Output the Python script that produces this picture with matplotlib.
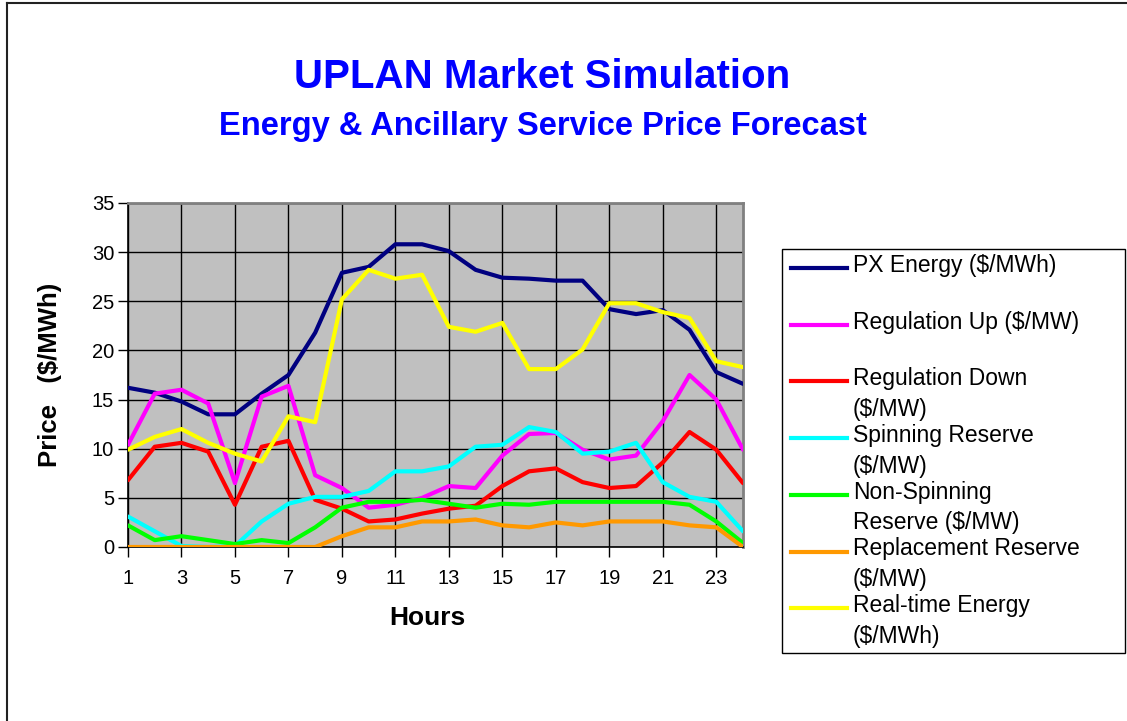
import matplotlib
matplotlib.use("Agg")
import matplotlib.pyplot as plt
from matplotlib.lines import Line2D
from matplotlib.patches import Rectangle

plt.rcParams['font.family'] = ['Liberation Sans', 'DejaVu Sans']

hours = list(range(1, 25))
px_energy = [16.2, 15.7, 14.8, 13.5, 13.5, 15.6, 17.5, 21.8, 27.9, 28.5, 30.8, 30.8,
             30.1, 28.2, 27.4, 27.3, 27.1, 27.1, 24.2, 23.7, 24.1, 22.1, 17.8, 16.6]
reg_up = [10.4, 15.6, 16.0, 14.6, 6.5, 15.3, 16.4, 7.3, 6.0, 4.0, 4.3, 5.0,
          6.2, 6.0, 9.3, 11.5, 11.6, 9.9, 8.9, 9.3, 12.8, 17.5, 15.0, 9.9]
reg_down = [6.8, 10.2, 10.6, 9.7, 4.3, 10.2, 10.8, 4.8, 3.9, 2.6, 2.8, 3.4,
            3.9, 4.2, 6.2, 7.7, 8.0, 6.6, 6.0, 6.2, 8.6, 11.7, 9.9, 6.5]
spinning = [3.1, 1.6, 0.1, 0.0, 0.1, 2.6, 4.4, 5.1, 5.1, 5.7, 7.7, 7.7,
            8.2, 10.2, 10.4, 12.2, 11.7, 9.5, 9.7, 10.6, 6.6, 5.1, 4.6, 1.6]
non_spinning = [2.2, 0.7, 1.1, 0.7, 0.3, 0.7, 0.4, 2.0, 4.0, 4.6, 4.6, 4.8,
                4.4, 4.0, 4.4, 4.3, 4.6, 4.6, 4.6, 4.6, 4.6, 4.3, 2.6, 0.4]
replacement = [0, 0, 0, 0, 0, 0, 0, 0, 1.1, 2.0, 2.0, 2.6,
               2.6, 2.8, 2.2, 2.0, 2.5, 2.2, 2.6, 2.6, 2.6, 2.2, 2.0, 0]
real_time = [9.9, 11.2, 12.0, 10.6, 9.5, 8.7, 13.3, 12.7, 25.2, 28.2, 27.3, 27.7,
             22.4, 21.9, 22.8, 18.1, 18.1, 20.1, 24.8, 24.8, 23.9, 23.3, 18.9, 18.3]

series = [px_energy, reg_up, reg_down, spinning, non_spinning, replacement, real_time]
labels = ["PX Energy ($/MWh)", "Regulation Up ($/MW)", "Regulation Down\n($/MW)",
          "Spinning Reserve\n($/MW)", "Non-Spinning\nReserve ($/MW)",
          "Replacement Reserve\n($/MW)", "Real-time Energy\n($/MWh)"]
colors = ["#000080", "#FF00FF", "#FF0000", "#00FFFF", "#00FF00", "#FF9900", "#FFFF00"]
x_ticks = list(range(1, 25, 2))
y_ticks = [0, 5, 10, 15, 20, 25, 30, 35]

W, H = 1127, 721
fig = plt.figure(figsize=(W / 100, H / 100), dpi=100)
fig.patch.set_facecolor("white")

def fx(px):
    return px / W

def fy(py):
    return 1 - py / H

ax = fig.add_axes([fx(128), fy(547), fx(743) - fx(128), fy(203) - fy(547)])
ax.set_facecolor("#C0C0C0")

for vals, c in zip(series, colors):
    ax.plot(hours, vals, color=c, lw=3.0, solid_capstyle='round', solid_joinstyle='round', zorder=3)

ax.set_xlim(1, 24)
ax.set_ylim(0, 35)
ax.set_xticks(x_ticks)
ax.set_yticks(y_ticks)
ax.grid(True, color="black", lw=1.0, zorder=1)
ax.set_axisbelow(True)
ax.tick_params(axis='both', direction='out', length=7, width=1, color='black',
               labelsize=14.5)
ax.tick_params(axis='y', pad=3)
ax.tick_params(axis='x', pad=9)
for s in ['left', 'bottom']:
    ax.spines[s].set_color('black')
    ax.spines[s].set_linewidth(1.2)
for s in ['top', 'right']:
    ax.spines[s].set_color('#808080')
    ax.spines[s].set_linewidth(2.0)

ax.set_xlabel("Hours", fontsize=19, fontweight='bold')
ax.xaxis.set_label_coords((427 - 128) / 615, (547 - 606) / 344)
ax.set_ylabel("Price   ($/MWh)", fontsize=18.5, fontweight='bold')
ax.yaxis.set_label_coords((62 - 128) / 615, 0.5)

fig.text(fx(542), fy(77), "UPLAN Market Simulation", color="#0000FF",
         fontsize=29, fontweight='bold', ha='center', va='center')
fig.text(fx(543), fy(126), "Energy & Ancillary Service Price Forecast", color="#0000FF",
         fontsize=23.5, fontweight='bold', ha='center', va='center')

# legend box
fig.patches.append(Rectangle((fx(782), fy(653)), fx(1125) - fx(782), fy(249) - fy(653),
                             transform=fig.transFigure, facecolor='white',
                             edgecolor='black', lw=1.0))
for i, (lab, c) in enumerate(zip(labels, colors)):
    yy = 268 + i * 56.7
    fig.lines.append(Line2D([fx(791), fx(847)], [fy(yy), fy(yy)], transform=fig.transFigure,
                            color=c, lw=3.0))
    fig.text(fx(853), fy(yy - 14), lab, fontsize=16.5, ha='left', va='top',
             linespacing=1.42, transform=fig.transFigure)

# outer frame (left and top)
fig.lines.append(Line2D([fx(7), fx(7)], [fy(3), 0], transform=fig.transFigure, color='#222222', lw=1.5))
fig.lines.append(Line2D([fx(7), 1], [fy(3), fy(3)], transform=fig.transFigure, color='#222222', lw=1.5))

fig.savefig("out.png", dpi=100)
